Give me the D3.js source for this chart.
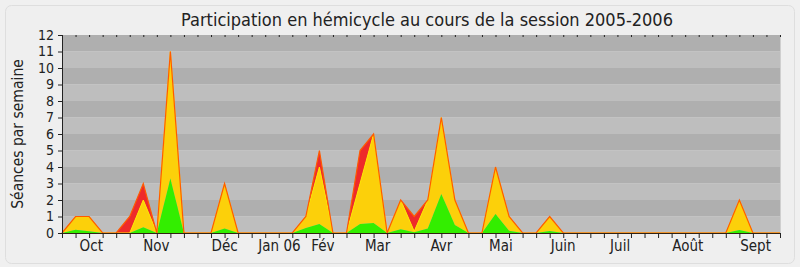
<!DOCTYPE html>
<html>
<head>
<meta charset="utf-8">
<script src="https://cdn.jsdelivr.net/npm/d3@7"></script>
<style>
  html, body { margin: 0; padding: 0; background: #f0f0f0; }
  svg { display: block; }
  text { font-family: "DejaVu Sans Condensed", "DejaVu Sans", sans-serif; fill: #222; }
</style>
</head>
<body>
<svg id="chart" width="800" height="267"></svg>
<script>
// ---- data (one value per week of the session, 54 weeks) ----
const weeks = d3.range(54);
const green = [0,0.2,0.1,0,0,0,0.35,0,3.3,0,
               0,0,0.28,0,0,0,0,0,0.3,0.55,
               0,0,0.55,0.6,0,0.22,0.05,0.28,2.36,0.48,
               0,0,1.15,0.14,0,0,0.12,0,0,0,
               0,0,0,0,0,0,0,0,0,0,
               0.18,0,0,0];
const yellow = [0,0.8,0.9,0,0,0,1.65,0,7.7,0,
                0,0,2.72,0,0,0,0,0,0.7,3.45,
                0,0,2.45,5.4,0,1.78,0.05,1.72,4.64,1.52,
                0,0,2.85,0.86,0,0,0.88,0,0,0,
                0,0,0,0,0,0,0,0,0,0,
                1.82,0,0,0];
const red = [0,0,0,0,0,1,1,0,0,0,
             0,0,0,0,0,0,0,0,0,1,
             0,0,2,0,0,0,0.9,0,0,0,
             0,0,0,0,0,0,0,0,0,0,
             0,0,0,0,0,0,0,0,0,0,
             0,0,0,0];
const monthLabels = ["Oct","Nov","Déc","Jan 06","Fév","Mar","Avr","Mai","Juin","Juil","Août","Sept"];
const monthPos = [2.16,6.97,12.0,16.05,19.26,23.3,28.0,32.4,37.0,41.2,46.2,51.2];
const yTicks = d3.range(0, 13);
const title = "Participation en hémicycle au cours de la session 2005-2006";
const yTitle = "Séances par semaine";

// ---- layout ----
const svg = d3.select("#chart");
const W = 800, H = 267;
const m = {left: 62, right: 20, top: 35, bottom: 34};
const x = d3.scaleLinear().domain([0, weeks.length - 1]).range([m.left, W - m.right]);
const y = d3.scaleLinear().domain([0, 12]).range([H - m.bottom, m.top]);

// panel
svg.append("rect").attr("x", 5.5).attr("y", 5.5).attr("width", W - 11).attr("height", H - 9)
  .attr("rx", 6).attr("fill", "#efefef").attr("stroke", "#dedede");

// bands
svg.append("g").selectAll("rect").data(d3.range(12)).join("rect")
  .attr("x", x(0)).attr("width", x(weeks.length - 1) - x(0))
  .attr("y", k => y(k + 1)).attr("height", k => y(k) - y(k + 1))
  .attr("fill", k => k % 2 === 0 ? "#bebebe" : "#afafaf");
svg.append("line").attr("x1", x(weeks.length - 1) + 0.5).attr("x2", x(weeks.length - 1) + 0.5)
  .attr("y1", y(12)).attr("y2", y(0)).attr("stroke", "#cfcfcf");

// stacked areas
const table = weeks.map(i => ({i, green: green[i], yellow: yellow[i], red: red[i]}));
const series = d3.stack().keys(["green", "yellow", "red"])(table);
const colors = {green: "#33ee00", yellow: "#fcd00a", red: "#ee2a2a"};
const area = d3.area().x(d => x(d.data.i)).y0(d => y(d[0])).y1(d => y(d[1]));
svg.append("g").selectAll("path").data(series.slice().reverse()).join("path")
  .attr("d", area).attr("fill", s => colors[s.key]);
// bright yellow edge on top of yellow layer
svg.append("path").datum(series[1])
  .attr("d", d3.line().x(d => x(d.data.i)).y(d => y(d[1])))
  .attr("fill", "none").attr("stroke", "#ffe600").attr("stroke-width", 1);
// orange outline of total
svg.append("path").datum(series[2])
  .attr("d", d3.line().x(d => x(d.data.i)).y(d => y(d[1])))
  .attr("fill", "none").attr("stroke", "#ff5a00").attr("stroke-width", 1.2);

// axes
const yAxis = svg.append("g").attr("transform", `translate(${m.left},0)`)
  .call(d3.axisLeft(y).tickValues(yTicks).tickSize(4).tickPadding(4).tickFormat(d3.format("d")));
yAxis.select(".domain").attr("stroke", "#222");
yAxis.selectAll("line").attr("stroke", "#222");
yAxis.selectAll("text").style("font-size", "14px").attr("fill", "#222");

const xAxis = svg.append("g").attr("transform", `translate(0,${y(0)})`)
  .call(d3.axisBottom(x).tickValues(weeks).tickSize(5).tickFormat(""));
xAxis.select(".domain").attr("stroke", "#332211");
xAxis.selectAll("line").attr("stroke", "#222");
// top inner ticks
svg.append("g").selectAll("line").data(weeks).join("line")
  .attr("x1", i => x(i) + 0.5).attr("x2", i => x(i) + 0.5)
  .attr("y1", y(12)).attr("y2", y(12) + 2).attr("stroke", "#222");

svg.append("g").selectAll("text").data(monthLabels).join("text")
  .attr("x", (d, k) => x(monthPos[k])).attr("y", y(0) + 18)
  .attr("text-anchor", "middle").style("font-size", "15px").text(d => d);

// titles
svg.append("text").attr("x", 427).attr("y", 26).attr("text-anchor", "middle")
  .style("font-size", "18px").text(title);
svg.append("text").attr("transform", `translate(23,${(y(0) + y(12)) / 2}) rotate(-90)`)
  .attr("text-anchor", "middle").style("font-size", "15.5px").text(yTitle);
</script>
</body>
</html>
